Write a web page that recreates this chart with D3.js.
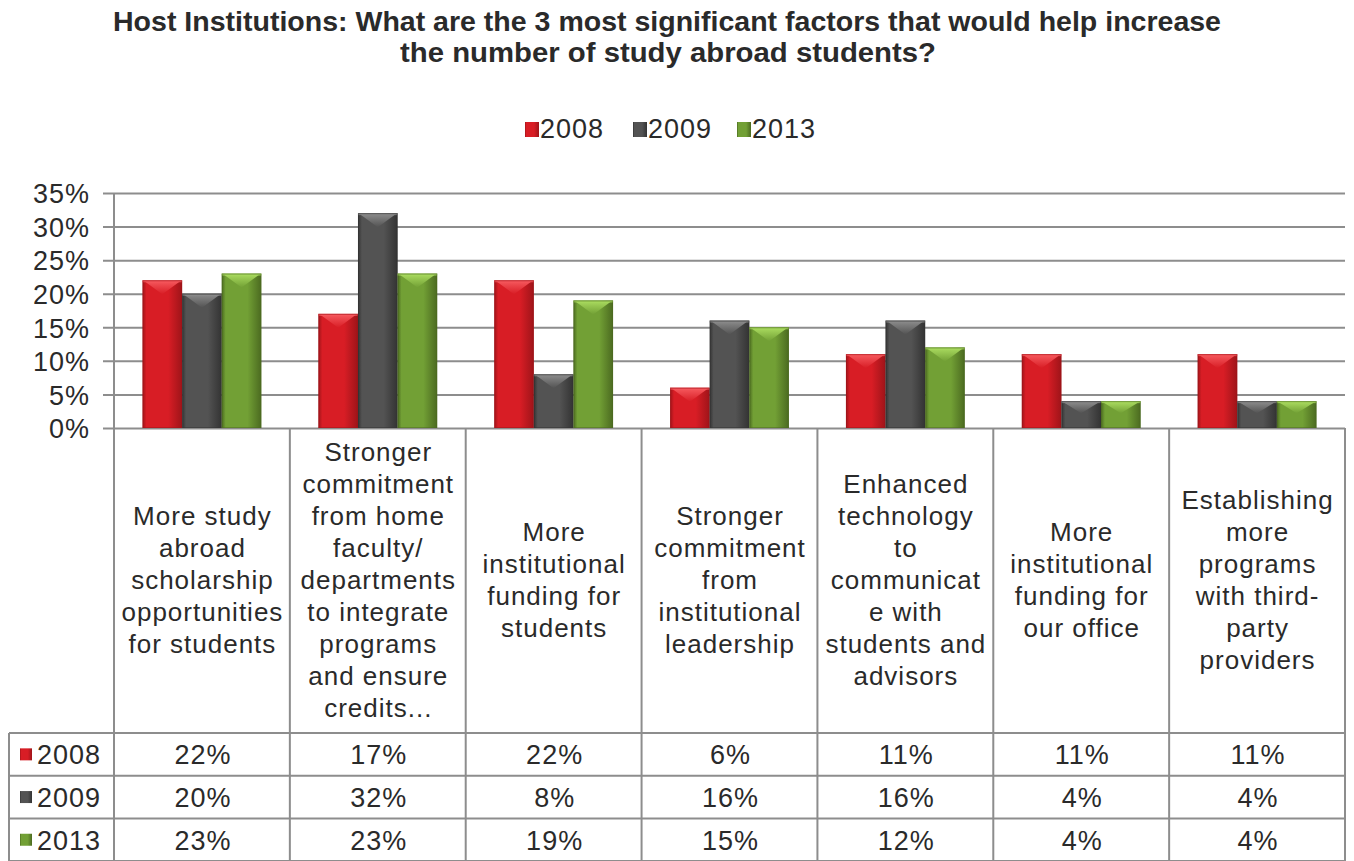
<!DOCTYPE html>
<html>
<head>
<meta charset="utf-8">
<script src="https://cdn.jsdelivr.net/npm/d3@7"></script>
<style>
  html, body { margin: 0; padding: 0; background: #fff; }
  svg { display: block; }
  text { font-family: "Liberation Sans", Arial, sans-serif; fill: #2a2a2a; }
  .body-text { letter-spacing: 1px; }
</style>
</head>
<body>
<svg id="chart" width="1354" height="861"></svg>
<script>
// Survey answers, one entry per factor (label lines as wrapped in the header row)
const categories = [
  ["More study", "abroad", "scholarship", "opportunities", "for students"],
  ["Stronger", "commitment", "from home", "faculty/", "departments", "to integrate", "programs", "and ensure", "credits..."],
  ["More", "institutional", "funding for", "students"],
  ["Stronger", "commitment", "from", "institutional", "leadership"],
  ["Enhanced", "technology", "to", "communicat", "e with", "students and", "advisors"],
  ["More", "institutional", "funding for", "our office"],
  ["Establishing", "more", "programs", "with third-", "party", "providers"]
];
const series = ["2008", "2009", "2013"];
const values2008 = [22, 17, 22, 6, 11, 11, 11];
const values2009 = [20, 32, 8, 16, 16, 4, 4];
const values2013 = [23, 23, 19, 15, 12, 4, 4];
const yTicks = [0, 5, 10, 15, 20, 25, 30, 35];

const seriesValues = [values2008, values2009, values2013];
const palette = {
  "2008": { edge: "#9e1419", mid: "#d81d25", hi: "#f5575c" },
  "2009": { edge: "#333333", mid: "#535353", hi: "#8a8a8a" },
  "2013": { edge: "#4b6a20", mid: "#72a035", hi: "#a8d95e" }
};

const svg = d3.select("#chart");
const defs = svg.append("defs");
series.forEach(s => {
  const c = palette[s];
  const g = defs.append("linearGradient").attr("id", "body-" + s)
    .attr("x1", "0").attr("x2", "1").attr("y1", "0").attr("y2", "0");
  g.append("stop").attr("offset", "0").attr("stop-color", c.edge);
  g.append("stop").attr("offset", "0.1").attr("stop-color", c.mid);
  g.append("stop").attr("offset", "0.65").attr("stop-color", c.mid);
  g.append("stop").attr("offset", "1").attr("stop-color", c.edge);
  const b = defs.append("linearGradient").attr("id", "bevel-" + s)
    .attr("x1", "0").attr("x2", "0").attr("y1", "0").attr("y2", "1");
  b.append("stop").attr("offset", "0").attr("stop-color", c.hi);
  b.append("stop").attr("offset", "1").attr("stop-color", c.mid);
});

// Layout
const plotLeft = 114, plotRight = 1345, plotTop = 193, plotBottom = 428;
const tableLeft = 9;
const headerBottom = 733;
const rowH = 42.7;
const gridColor = "#8d8d8d";

const x0 = d3.scaleBand().domain(d3.range(categories.length)).range([plotLeft, plotRight]).paddingInner(0).paddingOuter(0);
const x1 = d3.scaleBand().domain(series).range([0, x0.bandwidth()]).paddingInner(0).paddingOuter(0.72);
const y = d3.scaleLinear().domain([0, 35]).range([plotBottom, plotTop]);

// Title
const title = svg.append("g");
title.append("text").attr("x", 667).attr("y", 31).attr("text-anchor", "middle")
  .attr("font-size", 28).attr("font-weight", "bold")
  .attr("textLength", 1108).attr("lengthAdjust", "spacingAndGlyphs")
  .text("Host Institutions: What are the 3 most significant factors that would help increase");
title.append("text").attr("x", 668).attr("y", 62).attr("text-anchor", "middle")
  .attr("font-size", 28).attr("font-weight", "bold")
  .attr("textLength", 536).attr("lengthAdjust", "spacingAndGlyphs")
  .text("the number of study abroad students?");

// Legend
const legendX = [525, 633, 737];
const legend = svg.append("g");
series.forEach((s, i) => {
  legend.append("rect").attr("x", legendX[i]).attr("y", 122).attr("width", 14).attr("height", 15)
    .attr("fill", "url(#body-" + s + ")");
  legend.append("text").attr("class", "body-text").attr("x", legendX[i] + 15).attr("y", 138)
    .attr("font-size", 27).text(s);
});

// Y gridlines and axis
const yAxis = d3.axisLeft(y).tickValues(yTicks).tickFormat(d => d + "%")
  .tickSize(-(plotRight - plotLeft)).tickPadding(24);
const ya = svg.append("g").attr("transform", `translate(${plotLeft},0)`).call(yAxis);
ya.select(".domain").remove();
ya.selectAll(".tick line").attr("stroke", gridColor).attr("stroke-width", 2)
  .attr("x1", -11);
ya.selectAll(".tick text").attr("class", "body-text").attr("font-size", 27).attr("fill", "#2a2a2a")
  .attr("font-family", "Liberation Sans, Arial, sans-serif").attr("dy", "0.36em");
svg.append("line").attr("x1", plotLeft).attr("x2", plotLeft).attr("y1", plotTop).attr("y2", plotBottom)
  .attr("stroke", gridColor).attr("stroke-width", 2);

// Bars
const bars = svg.append("g");
series.forEach((s, si) => {
  seriesValues[si].forEach((v, ci) => {
    const bx = x0(ci) + x1(s);
    const bw = x1.bandwidth();
    const by = y(v);
    const bh = plotBottom - by;
    const g = bars.append("g");
    g.append("rect").attr("x", bx).attr("y", by).attr("width", bw).attr("height", bh)
      .attr("fill", "url(#body-" + s + ")");
    const depth = Math.min(14, bh * 0.45);
    g.append("path")
      .attr("d", `M${bx + 2},${by + 1} L${bx + bw - 2},${by + 1} L${bx + bw / 2},${by + depth} Z`)
      .attr("fill", "url(#bevel-" + s + ")");
    g.append("rect").attr("x", bx).attr("y", by).attr("width", bw).attr("height", 2)
      .attr("fill", palette[s].hi).attr("opacity", 0.8);
    g.append("rect").attr("x", bx + 0.5).attr("y", by + 0.5).attr("width", bw - 1).attr("height", bh - 1)
      .attr("fill", "none").attr("stroke", palette[s].edge).attr("stroke-opacity", 0.5);
  });
});

// Data table under the plot
const table = svg.append("g");
const tableBottom = headerBottom + rowH * 3;
const line = (x1p, y1p, x2p, y2p) => table.append("line")
  .attr("x1", x1p).attr("y1", y1p).attr("x2", x2p).attr("y2", y2p)
  .attr("stroke", gridColor).attr("stroke-width", 2);

// header row borders
d3.range(categories.length + 1).forEach(i => {
  const xx = i < categories.length ? x0(i) : plotRight;
  line(xx, plotBottom, xx, tableBottom);
});
line(tableLeft, headerBottom, plotRight, headerBottom);
d3.range(1, 4).forEach(r => line(tableLeft, headerBottom + rowH * r, plotRight, headerBottom + rowH * r));
line(tableLeft, headerBottom, tableLeft, tableBottom);

// header labels
const lineH = 32;
categories.forEach((lines, ci) => {
  const cx = x0(ci) + x0.bandwidth() / 2 + 0.5;
  const cy = (plotBottom + headerBottom) / 2 - 1;
  const t = table.append("text").attr("class", "body-text").attr("text-anchor", "middle").attr("font-size", 26);
  lines.forEach((ln, li) => {
    t.append("tspan").attr("x", cx)
      .attr("y", cy + (li - (lines.length - 1) / 2) * lineH + 9)
      .text(ln);
  });
});

// series rows
series.forEach((s, si) => {
  const rowMid = headerBottom + rowH * si + rowH / 2;
  table.append("rect").attr("x", 20).attr("y", rowMid - 6).attr("width", 12).attr("height", 12)
    .attr("fill", "url(#body-" + s + ")");
  table.append("text").attr("class", "body-text").attr("x", 37).attr("y", rowMid + 10).attr("font-size", 27).text(s);
  seriesValues[si].forEach((v, ci) => {
    table.append("text").attr("class", "body-text").attr("x", x0(ci) + x0.bandwidth() / 2 + 1).attr("y", rowMid + 10)
      .attr("text-anchor", "middle").attr("font-size", 27).text(v + "%");
  });
});
</script>
</body>
</html>
